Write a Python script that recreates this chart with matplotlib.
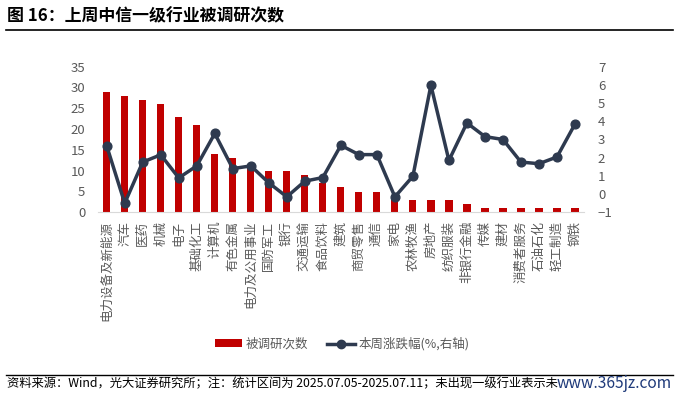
import matplotlib
matplotlib.use("Agg")
import matplotlib.pyplot as plt
from matplotlib.lines import Line2D
from matplotlib.patches import Patch

plt.rcParams['font.family'] = ['Noto Sans CJK SC', 'DejaVu Sans']

categories = ["电力设备及新能源", "汽车", "医药", "机械", "电子", "基础化工", "计算机", "有色金属",
              "电力及公用事业", "国防军工", "银行", "交通运输", "食品饮料", "建筑", "商贸零售", "通信",
              "家电", "农林牧渔", "房地产", "纺织服装", "非银行金融", "传媒", "建材", "消费者服务",
              "石油石化", "轻工制造", "钢铁"]
survey_counts = [29, 28, 27, 26, 23, 21, 14, 13, 11, 10, 10, 9, 7, 6, 5, 5, 3, 3, 3, 3, 2, 1, 1, 1, 1, 1, 1]
weekly_change = [2.65, -0.5, 1.76, 2.16, 0.89, 1.55, 3.33, 1.4, 1.55, 0.62, -0.15, 0.71, 0.91, 2.68,
                 2.17, 2.17, -0.15, 0.98, 5.98, 1.85, 3.91, 3.16, 3.0, 1.76, 1.67, 2.04, 3.85]
left_ticks = [0, 5, 10, 15, 20, 25, 30, 35]
right_ticks = [-1, 0, 1, 2, 3, 4, 5, 6, 7]

W, H = 679, 399
fig = plt.figure(figsize=(W / 100, H / 100), dpi=100)
ax = fig.add_axes([97.7 / W, 1 - 212.3 / H, (584 - 97.7) / W, (212.3 - 66.7) / H])
ax2 = ax.twinx()

bar_color = "#C00000"
line_color = "#2E3A4F"
tick_color = "#595959"

x = list(range(len(categories)))
ax.bar(x, survey_counts, width=0.4, color=bar_color, zorder=2)
ax2.plot(x, weekly_change, color=line_color, lw=2.5, marker="o", ms=6.3, zorder=3)

ax.set_xlim(-0.5, len(categories) - 0.5)
ax.set_ylim(0, 35)
ax2.set_ylim(-1, 7)
ax.set_yticks(left_ticks)
ax2.set_yticks(right_ticks)
ax.set_xticks(x)
ax.set_xticklabels(categories, rotation=90, va="top", ha="center")

for a in (ax, ax2):
    for s in a.spines.values():
        s.set_visible(False)
    a.tick_params(length=0, colors=tick_color, labelsize=9.5)
ax.spines['bottom'].set_visible(True)
ax.spines['bottom'].set_color("#D9D9D9")
ax.tick_params(axis='x', labelsize=9, pad=6)
ax.tick_params(axis='y', pad=9)
ax2.tick_params(axis='y', pad=10)

# Title and rules
fig.text(7 / W, 1 - 16 / H, "图 16：上周中信一级行业被调研次数", fontsize=12.2, fontweight="bold",
         va="center", ha="left", color="black")
fig.add_artist(Line2D([6 / W, 673 / W], [1 - 29.5 / H, 1 - 29.5 / H], color="black", lw=1.2))
fig.add_artist(Line2D([6 / W, 673 / W], [1 - 375 / H, 1 - 375 / H], color="black", lw=1.0))
fig.text(7 / W, 1 - 384 / H,
         "资料来源：Wind，光大证券研究所；注：统计区间为 2025.07.05-2025.07.11；未出现一级行业表示未",
         fontsize=8.85, va="center", ha="left", color="black")
fig.text(672 / W, 1 - 384 / H, "www.365jz.com", fontsize=11.2, va="center", ha="right", color="#1F3A7A")

handles = [Patch(facecolor=bar_color, edgecolor="none"),
           Line2D([0], [0], color=line_color, lw=2.5, marker="o", ms=6)]
fig.legend(handles, ["被调研次数", "本周涨跌幅(%,右轴)"], loc="center", bbox_to_anchor=(342 / W, 1 - 344 / H),
           ncol=2, frameon=False, fontsize=9, handlelength=2.2, handleheight=0.6, columnspacing=1.5,
           handletextpad=0.3, labelcolor=tick_color)

fig.savefig("out.png", dpi=100)
